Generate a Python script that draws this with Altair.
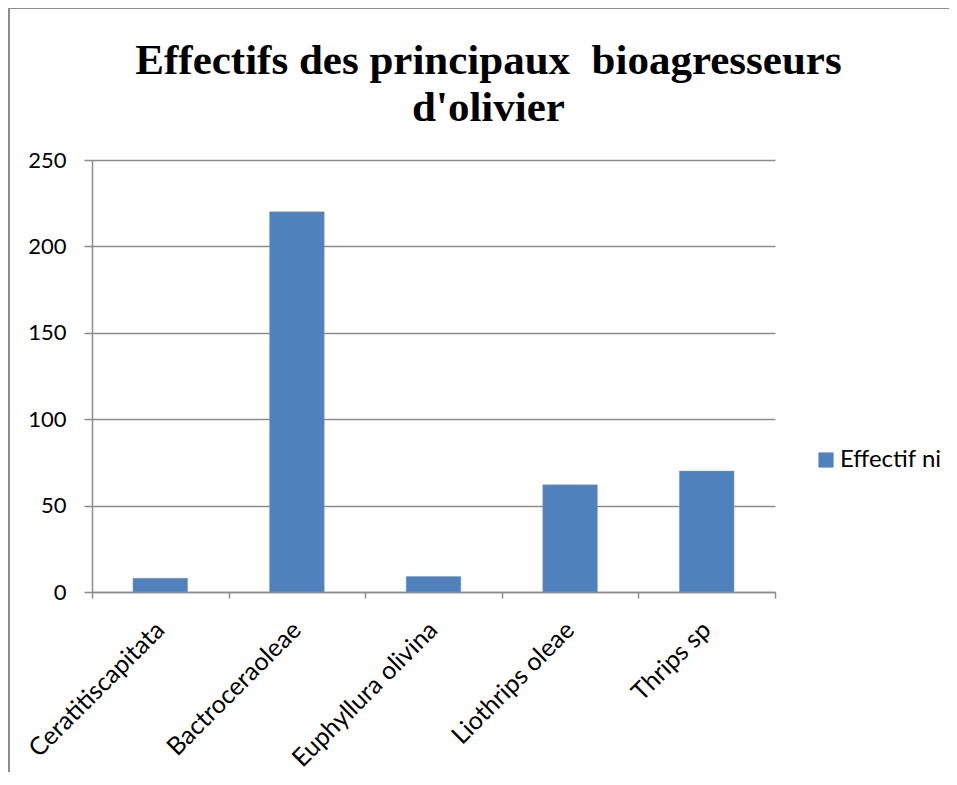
import altair as alt
import pandas as pd

categories = ["Ceratitiscapitata", "Bactroceraoleae", "Euphyllura olivina", "Liothrips oleae", "Thrips sp"]
values = [8, 220, 9, 62, 70]
series_name = ["Effectif ni"] * len(categories)
y_ticks = [0, 50, 100, 150, 200, 250]
title_lines = ["Effectifs des principaux\u00a0 bioagresseurs", "d'olivier"]

df = pd.DataFrame({"cat": categories, "val": values, "serie": series_name})

GRID = "#8c8c8c"
FONT = "Lato"

bars = alt.Chart(df).mark_bar(width=alt.RelativeBandSize(0.4), stroke="#7a9fd0", strokeWidth=0.5).encode(
    x=alt.X("cat:N", sort=categories, title=None,
            scale=alt.Scale(paddingInner=0, paddingOuter=0),
            axis=alt.Axis(labelAngle=-45, labelFont=FONT,
                          labelFontSize=25, labelColor="#000000", labelPadding=19, labelOffset=-9,
                          tickBand="extent", tickSize=6, tickColor=GRID, domainColor=GRID,
                          domainWidth=1.5, tickWidth=1.5, grid=False, labelLimit=400)),
    y=alt.Y("val:Q", title=None, scale=alt.Scale(domain=[0, 250], nice=False),
            axis=alt.Axis(values=y_ticks, labelFont=FONT, labelFontSize=22, labelColor="#000000",
                          tickSize=8, tickColor=GRID, domainColor=GRID, gridColor=GRID,
                          domainWidth=1.5, tickWidth=1.5, gridWidth=1.5, labelPadding=18)),
    color=alt.Color("serie:N", title=None,
                    scale=alt.Scale(range=["#4F81BD"]),
                    legend=alt.Legend(orient="none", legendX=722, legendY=288,
                                      symbolType="square", symbolSize=230, symbolStrokeWidth=0,
                                      labelFont=FONT, labelFontSize=24, labelColor="#000000",
                                      labelOffset=2)),
)

border = alt.Chart(pd.DataFrame({"b": [0]})).mark_rect(
    fillOpacity=0, stroke="#8c8c8c", strokeWidth=2
).encode(x=alt.value(-83), y=alt.value(-152), x2=alt.value(1000), y2=alt.value(1000))

chart = alt.layer(border, bars).properties(
    width=683, height=432,
    padding={"left": 84, "top": 152, "right": 174, "bottom": 180},
    autosize=alt.AutoSizeParams(type="none"),
    title=alt.TitleParams(title_lines, font="Liberation Serif", fontSize=43, fontWeight="bold",
                          color="#000000", anchor="middle", frame="group", dx=55, offset=-123,
                          lineHeight=47),
).configure_view(stroke=None)

chart.save("out.html", embed_options={"renderer": "svg", "actions": False})
